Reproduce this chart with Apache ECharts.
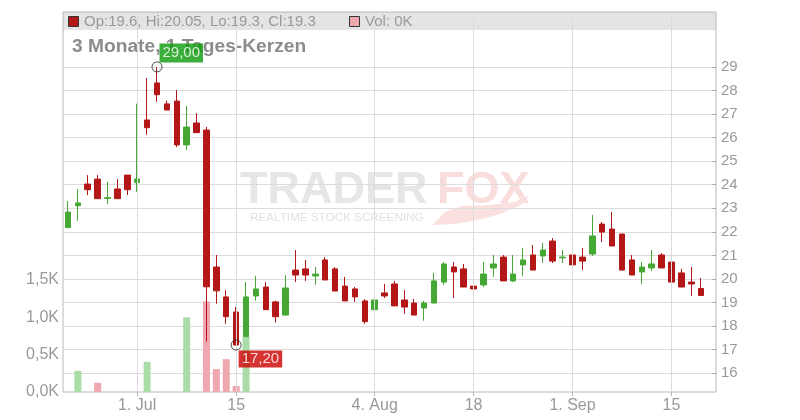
<!DOCTYPE html>
<html><head><meta charset="utf-8">
<script src="https://cdn.jsdelivr.net/npm/echarts@6/dist/echarts.min.js"></script>
<style>html,body{margin:0;padding:0;background:#fff}#c{width:800px;height:420px}</style>
</head><body><div id="c"></div>
<script>
const dates = [
'2025-06-20','2025-06-23','2025-06-24','2025-06-25','2025-06-26','2025-06-27','2025-06-30',
'2025-07-01','2025-07-02','2025-07-03','2025-07-04','2025-07-07','2025-07-08','2025-07-09','2025-07-10','2025-07-11',
'2025-07-14','2025-07-15','2025-07-16','2025-07-17','2025-07-18','2025-07-21','2025-07-22','2025-07-23','2025-07-24',
'2025-07-25','2025-07-28','2025-07-29','2025-07-30','2025-07-31',
'2025-08-01','2025-08-04','2025-08-05','2025-08-06','2025-08-07','2025-08-08','2025-08-11','2025-08-12','2025-08-13',
'2025-08-14','2025-08-15','2025-08-18','2025-08-19','2025-08-20','2025-08-21','2025-08-22','2025-08-25','2025-08-26',
'2025-08-27','2025-08-28','2025-08-29',
'2025-09-01','2025-09-02','2025-09-03','2025-09-04','2025-09-05','2025-09-08','2025-09-09','2025-09-10','2025-09-11',
'2025-09-12','2025-09-15','2025-09-16','2025-09-17','2025-09-18','2025-09-19'
];
const openP = [22.18,23.11,24.03,24.24,23.42,23.82,24.41,24.09,26.75,28.32,27.43,27.55,25.69,26.62,26.32,20.51,19.24,18.60,17.55,19.28,19.66,19.03,18.47,20.38,20.43,20.13,20.81,20.43,19.70,19.58,19.07,18.70,19.41,19.79,19.11,18.98,18.77,18.98,19.87,20.51,20.43,19.70,19.75,20.47,20.93,19.92,20.60,21.02,20.98,21.61,20.90,21.02,20.93,21.06,22.33,22.12,21.91,20.81,20.30,20.47,21.02,20.72,20.26,19.87,19.60];
const highP = [23.31,23.82,24.41,24.41,24.12,24.24,24.41,27.44,28.53,29.00,27.57,28.02,27.34,27.04,26.45,21.02,19.53,18.81,19.87,20.13,19.87,19.08,20.17,21.23,20.81,20.51,20.93,20.51,20.09,19.66,19.15,19.53,19.79,19.92,19.53,19.15,19.07,20.26,20.72,20.72,20.64,20.34,20.72,21.02,21.02,21.02,21.32,21.44,21.53,21.74,21.23,21.02,21.32,22.72,22.42,22.84,21.91,21.02,20.72,21.23,21.10,21.02,20.43,20.51,20.05];
const lowP = [22.18,22.47,23.56,23.41,23.18,23.41,23.56,23.70,26.12,27.52,27.17,25.60,25.47,26.21,17.34,18.95,18.10,17.20,17.55,19.08,18.70,18.15,18.47,19.87,19.92,19.75,19.96,19.49,19.07,19.03,18.10,18.70,19.19,18.86,18.52,18.47,18.23,18.98,19.75,19.19,19.66,19.53,19.66,20.09,19.92,19.87,20.13,20.38,20.68,20.68,20.68,20.60,20.38,20.98,21.57,21.40,20.38,20.17,19.79,20.34,20.47,19.87,19.66,19.28,19.30];
const closeP = [22.84,23.23,23.79,23.41,23.45,23.41,23.79,24.24,26.42,27.82,27.17,25.69,26.45,26.21,19.67,19.50,18.40,17.20,19.24,19.58,18.70,18.40,19.62,20.17,20.17,20.21,19.96,19.49,19.07,19.24,18.19,19.11,19.28,18.86,18.81,18.47,18.98,19.92,20.64,20.30,19.66,19.58,20.21,20.64,19.92,20.21,20.81,20.38,21.23,20.76,20.93,20.60,20.76,21.83,21.99,21.40,20.38,20.17,20.51,20.64,20.47,19.87,19.66,19.79,19.30];
const volume = [0,284,0,124,0,0,0,0,404,0,0,0,1000,0,1213,307,440,80,733,0,0,0,0,0,0,0,0,0,0,0,0,0,0,0,0,0,0,0,0,0,0,0,0,0,0,0,0,0,0,0,0,0,0,0,0,0,0,0,0,0,0,0,0,0,0];
const tickDates = ['2025-07-01','2025-07-15','2025-08-04','2025-08-18','2025-09-01','2025-09-15'];
const tickTexts = ['1. Jul','15','4. Aug','18','1. Sep','15'];
const legendText = 'Op:19.6, Hi:20.05, Lo:19.3, Cl:19.3';
const volLegendText = 'Vol: 0K';
const titleText = '3 Monate, 1 Tages-Kerzen';

const UP = '#46a834', DOWN = '#b31717', VUP = '#aadca8', VDOWN = '#f0a8b0';
const GRAY = '#999';
const FONT = 'Liberation Sans, Arial, sans-serif';

const candleData = dates.map((d, i) => i < openP.length ? [openP[i], closeP[i], lowP[i], highP[i]] : '-');
const volData = dates.map((d, i) => {
  if (i >= volume.length) return '-';
  const up = i === 0 ? true : closeP[i] >= closeP[i - 1];
  return { value: volume[i], itemStyle: { color: up ? VUP : VDOWN } };
});
let hiIdx = 0, loIdx = 0;
highP.forEach((v, i) => { if (v > highP[hiIdx]) hiIdx = i; });
lowP.forEach((v, i) => { if (v < lowP[loIdx]) loIdx = i; });
const fmt = v => v.toFixed(2).replace('.', ',');
const tickIdx = new Set(tickDates.map(d => dates.indexOf(d)));

const chart = echarts.init(document.getElementById('c'));
chart.setOption({
  animation: false,
  textStyle: { fontFamily: FONT },
  grid: [
    { left: 63, right: 84, top: 12, bottom: 28, show: true, borderColor: '#b8b8b8', borderWidth: 1, backgroundColor: 'transparent' },
    { left: 63, right: 84, top: 66.9, bottom: 46.7 }
  ],
  xAxis: [
    { type: 'category', gridIndex: 0, data: dates, boundaryGap: true,
      axisLine: { show: false },
      axisTick: { show: true, alignWithLabel: true, length: 4, interval: i => tickIdx.has(i), lineStyle: { color: '#b8b8b8' } },
      axisLabel: { interval: i => tickIdx.has(i), formatter: (v) => { const k = tickDates.indexOf(v); return k >= 0 ? tickTexts[k] : ''; }, color: GRAY, fontSize: 16, margin: 6, fontFamily: FONT },
      splitLine: { show: false } },
    { type: 'category', gridIndex: 1, data: dates, boundaryGap: true, show: false }
  ],
  yAxis: [
    { type: 'value', gridIndex: 0, position: 'left', min: 0, max: 5090, interval: 500,
      axisLine: { show: false }, axisTick: { show: false }, splitLine: { show: false },
      axisLabel: { color: GRAY, fontSize: 16, margin: 4, fontFamily: FONT, showMaxLabel: false,
        formatter: v => v <= 1500 ? (v / 1000).toFixed(1).replace('.', ',') + 'K' : '' } },
    { type: 'value', gridIndex: 1, position: 'right', min: 16, max: 29, interval: 1,
      axisLine: { show: false },
      axisTick: { show: true, inside: true, length: 4, lineStyle: { color: '#aaa' } },
      splitLine: { show: true, lineStyle: { color: '#dcdcdc', width: 1 } },
      axisLabel: { color: GRAY, fontSize: 15, margin: 5, fontFamily: FONT } }
  ],
  graphic: [
    { type: 'rect', z: -10, shape: { x: 63, y: 12, width: 653, height: 18 }, style: { fill: '#e4e4e4' } },
    { type: 'rect', z: 50, shape: { x: 68.5, y: 16.5, width: 10, height: 10 }, style: { fill: DOWN, stroke: '#333', lineWidth: 1 } },
    { type: 'text', z: 50, style: { x: 84, y: 22, text: legendText, fill: GRAY, font: '15px ' + FONT, verticalAlign: 'middle' } },
    { type: 'rect', z: 50, shape: { x: 349.5, y: 16.5, width: 10, height: 10 }, style: { fill: VDOWN, stroke: '#333', lineWidth: 1 } },
    { type: 'text', z: 50, style: { x: 365, y: 22, text: volLegendText, fill: GRAY, font: '15px ' + FONT, verticalAlign: 'middle' } },
    { type: 'text', z: -5, style: { x: 240, y: 191, text: 'TRADER', fill: '#e6e6e6', font: 'bold 45px ' + FONT, verticalAlign: 'middle' } },
    { type: 'text', z: -5, style: { x: 437, y: 191, text: 'FOX', fill: '#f9dcdc', font: 'bold 45px ' + FONT, verticalAlign: 'middle' } },
    { type: 'polygon', z: -6, shape: { points: [[432,225],[445,212],[462,206],[490,205],[515,202],[530,195],[521,205],[500,214],[478,220],[455,224]] }, style: { fill: '#fbe0e0' } },
    { type: 'text', z: -5, style: { x: 250, y: 218, text: 'REALTIME STOCK SCREENING', fill: '#e2e2e2', font: '11.7px ' + FONT, verticalAlign: 'middle' } },
    { type: 'text', z: 1, style: { x: 72, y: 47, text: titleText, fill: '#8c8c8c', font: 'bold 19.2px ' + FONT, verticalAlign: 'middle' } }
  ],
  series: [
    { type: 'bar', xAxisIndex: 0, yAxisIndex: 0, data: volData, barWidth: 7, silent: true,
      markLine: { silent: true, symbol: 'none', label: { show: false },
        lineStyle: { color: '#dcdcdc', type: 'solid', width: 1 },
        data: tickDates.map(d => ({ xAxis: d })) } },
    { type: 'candlestick', xAxisIndex: 1, yAxisIndex: 1, data: candleData, barWidth: 6,
      itemStyle: { color: UP, color0: DOWN, borderColor: UP, borderColor0: DOWN, borderWidth: 1 } },
    { type: 'scatter', xAxisIndex: 1, yAxisIndex: 1, z: 10, symbol: 'circle', symbolSize: 10,
      itemStyle: { color: 'rgba(0,0,0,0)', borderColor: '#222', borderWidth: 1 },
      data: [
        { value: [dates[hiIdx], highP[hiIdx]], label: { show: true, formatter: fmt(highP[hiIdx]), position: [8, -18], backgroundColor: '#0a9a0a', color: '#fff', fontSize: 15, padding: [2, 3], fontFamily: FONT } },
        { value: [dates[loIdx], lowP[loIdx]], label: { show: true, formatter: fmt(lowP[loIdx]), position: [8, 11], backgroundColor: '#cc0000', color: '#fff', fontSize: 15, padding: [1, 3], fontFamily: FONT } }
      ] }
  ]
});
</script></body></html>
